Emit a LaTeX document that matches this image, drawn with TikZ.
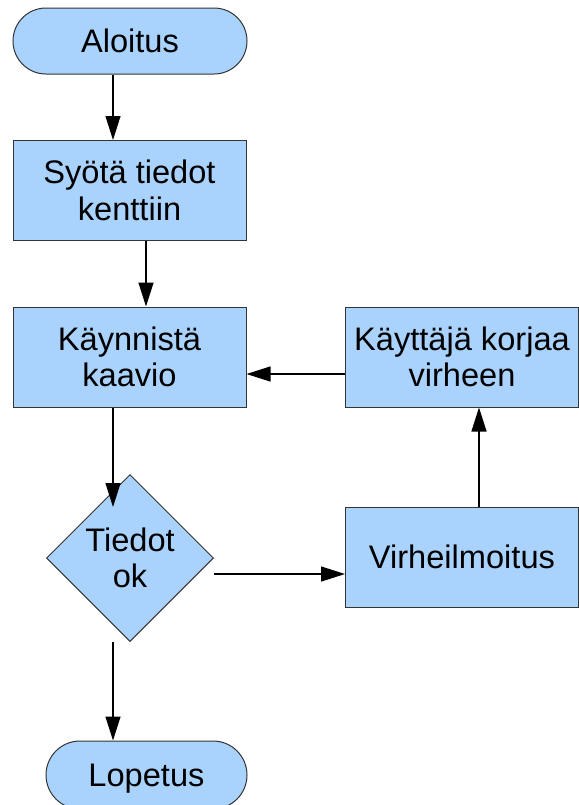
\documentclass[tikz,border=0pt]{standalone}
\usepackage{fontspec}
\setmainfont{Liberation Sans}
\usetikzlibrary{shapes.geometric,shapes.misc,arrows.meta}
\definecolor{boxfill}{RGB}{169,211,253}
\definecolor{boxline}{RGB}{52,52,52}
\begin{document}
\begin{tikzpicture}[x=0.5pt,y=-0.5pt,
  every node/.style={font=\fontsize{16.3pt}{18.3pt}\selectfont, align=center, inner sep=0pt},
  shapebase/.style={draw=boxline, fill=boxfill, line width=0.5pt},
  procbox/.style={shapebase, rectangle, minimum width=116.5pt, minimum height=50pt},
  terminal/.style={shapebase, rounded rectangle, minimum height=33pt},
  decision/.style={shapebase, diamond, aspect=1, minimum width=83.5pt, minimum height=83.5pt},
  arr/.style={-{Triangle[length=12pt,width=7.5pt]}, line width=0.6pt}]
\useasboundingbox[fill=white] (0,0) rectangle (579,805);

% flowchart nodes
\node[terminal, minimum width=117pt] (aloitus) at (130,41) {Aloitus};
\node[procbox] (syota) at (129.5,190.5) {Syötä tiedot\\kenttiin};
\node[procbox] (kaynnista) at (129.5,357) {Käynnistä\\kaavio};
\node[procbox] (kayttaja) at (462,357) {Käyttäjä korjaa\\virheen};
\node[procbox] (virhe) at (462,557) {Virheilmoitus};
\node[decision] (tiedot) at (130,558) {Tiedot\\ok};
\node[terminal, minimum width=100.5pt, minimum height=34pt, text depth=0pt] (lopetus) at (146.5,775) {Lopetus};

% guide coordinates for the connector lanes
\coordinate (xa) at (113,0);
\coordinate (xb) at (146,0);
\coordinate (xc) at (479,0);
\coordinate (ya) at (0,374);
\coordinate (yb) at (0,574);
\coordinate (tip) at (113,507);

% connectors
\draw[arr] (aloitus.south -| xa) -- (syota.north -| xa);
\draw[arr] (syota.south -| xb) -- (kaynnista.north -| xb);
\draw[arr] (kaynnista.south -| xa) -- (tip);
\draw[arr] (tiedot.east |- yb) -- (virhe.west |- yb);
\draw[arr] (virhe.north -| xc) -- (kayttaja.south -| xc);
\draw[arr] (kayttaja.west |- ya) -- (kaynnista.east |- ya);
\draw[arr] (tiedot.south -| xa) -- (lopetus.north -| xa);
\end{tikzpicture}
\end{document}
